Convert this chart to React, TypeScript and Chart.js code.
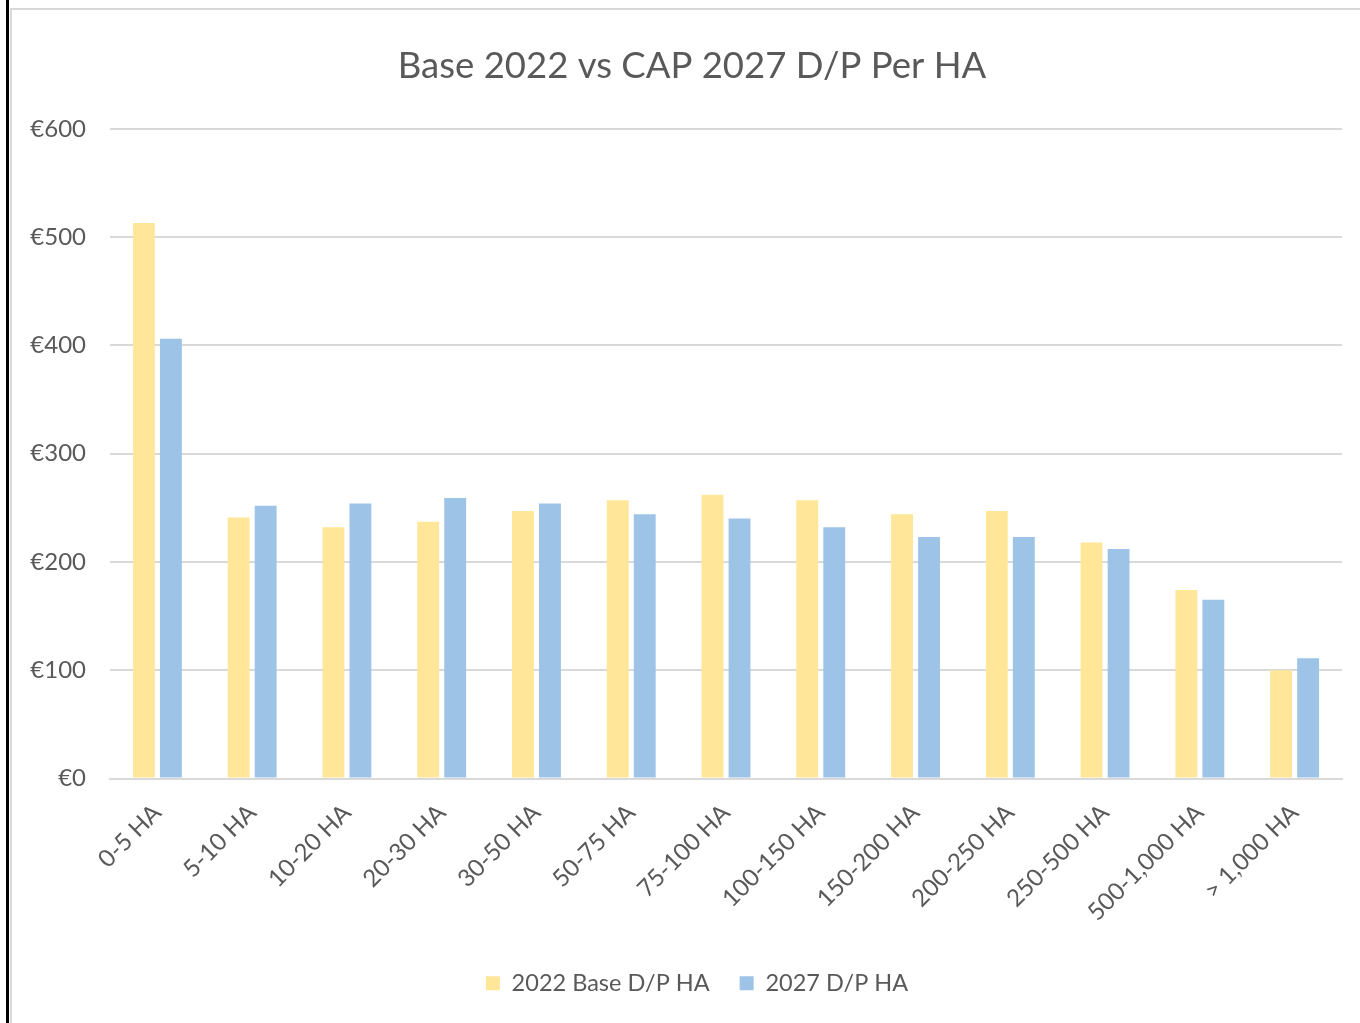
import React, { useEffect, useRef } from "react";
import { Chart, registerables } from "chart.js";

Chart.register(...registerables);

const categories = ["0-5 HA", "5-10 HA", "10-20 HA", "20-30 HA", "30-50 HA", "50-75 HA", "75-100 HA", "100-150 HA", "150-200 HA", "200-250 HA", "250-500 HA", "500-1,000 HA", "> 1,000 HA"];
const base2022 = [513, 241, 232, 237, 247, 257, 262, 257, 244, 247, 218, 174, 100];
const cap2027 = [406, 252, 254, 259, 254, 244, 240, 232, 223, 223, 212, 165, 111];
const yTicks = [0, 100, 200, 300, 400, 500, 600];

const FONT = "Lato, 'Open Sans', sans-serif";
const GRAY = "#595959";

const shiftPlugin = {
  id: "shiftBoxes",
  afterLayout(chart: any) {
    const t = chart.titleBlock;
    if (t) { t.left += 15; t.right += 15; }
    const l = chart.legend;
    if (l) { l.left += 20; l.right += 20; }
  },
};

export default function App() {
  const ref = useRef<HTMLCanvasElement | null>(null);
  useEffect(() => {
    if (!ref.current) return;
    const chart = new Chart(ref.current, {
      type: "bar",
      data: {
        labels: categories,
        datasets: [
          { label: "2022 Base D/P HA", data: base2022, backgroundColor: "#FFE699", categoryPercentage: 0.57, barPercentage: 0.81 },
          { label: "2027 D/P HA", data: cap2027, backgroundColor: "#9DC3E6", categoryPercentage: 0.57, barPercentage: 0.81 },
        ],
      },
      plugins: [shiftPlugin],
      options: {
        animation: false,
        responsive: false,
        maintainAspectRatio: false,
        layout: { padding: { left: 0, right: 18, top: 0, bottom: 18 } },
        plugins: {
          title: {
            display: true,
            text: "Base 2022 vs CAP 2027 D/P Per HA",
            color: GRAY,
            font: { family: FONT, size: 36.5, weight: "normal" },
            padding: { top: 33, bottom: 41 },
          },
          legend: {
            position: "bottom",
            labels: {
              color: GRAY,
              font: { family: FONT, size: 23.5 },
              boxWidth: 14,
              boxHeight: 14,
              padding: 30,
            },
          },
          tooltip: { enabled: false },
        },
        scales: {
          x: {
            grid: { display: false, drawTicks: false },
            border: { color: "#d9d9d9", width: 2 },
            ticks: {
              color: GRAY,
              font: { family: FONT, size: 24 },
              maxRotation: 45,
              minRotation: 45,
              padding: 20,
              autoSkip: false,
            },
            afterFit: (s: any) => { s.height = 163; },
          },
          y: {
            min: 0,
            max: 600,
            afterBuildTicks: (s: any) => { s.ticks = yTicks.map((v) => ({ value: v })); },
            grid: { color: "#d9d9d9", lineWidth: 2, drawTicks: false },
            border: { display: false },
            ticks: {
              color: GRAY,
              font: { family: FONT, size: 24 },
              padding: 24,
              callback: (v: any) => "€" + v,
            },
            afterFit: (s: any) => { s.width = 98; },
          },
        },
      },
    });
    return () => chart.destroy();
  }, []);

  return (
    <div style={{ position: "absolute", left: 0, top: 0, width: 1360, height: 1023, background: "#fff", overflow: "hidden" }}>
      <div style={{ position: "absolute", left: 6, top: 0, width: 3, height: 1023, background: "#000" }} />
      <div style={{ position: "absolute", left: 10, top: 8, width: 1400, height: 1100, borderLeft: "2px solid #d9d9d9", borderTop: "2px solid #d9d9d9" }} />
      <canvas ref={ref} width={1348} height={1012} style={{ position: "absolute", left: 12, top: 11, width: 1348, height: 1012 }} />
    </div>
  );
}
